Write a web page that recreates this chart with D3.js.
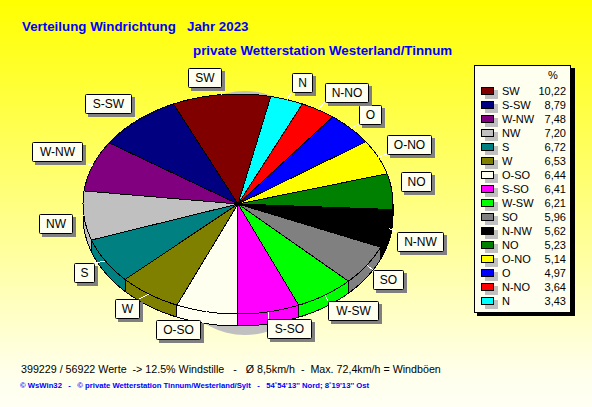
<!DOCTYPE html>
<html><head><meta charset="utf-8">
<script src="https://cdn.jsdelivr.net/npm/d3@7/dist/d3.min.js"></script>
<style>
html,body{margin:0;padding:0;background:#fff}
svg{display:block}
text{white-space:pre;font-family:"Liberation Sans",Arial,sans-serif}
</style></head><body>
<svg id="c" width="592" height="407"></svg>
<script>
const categories=["SW","S-SW","W-NW","NW","S","W","O-SO","S-SO","W-SW","SO","N-NW","NO","O-NO","O","N-NO","N"];
const percentValues=[10.22,8.79,7.48,7.20,6.72,6.53,6.44,6.41,6.21,5.96,5.62,5.23,5.14,4.97,3.64,3.43];
const percentLabels=["10,22","8,79","7,48","7,20","6,72","6,53","6,44","6,41","6,21","5,96","5,62","5,23","5,14","4,97","3,64","3,43"];
const sliceColors=["#800000","#000080","#800080","#C0C0C0","#008080","#808000","#FFFFF0","#FF00FF","#00FF00","#808080","#000000","#008000","#FFFF00","#0000FF","#FF0000","#00FFFF"];
const titleLine1="Verteilung Windrichtung   Jahr 2023";
const titleLine2="private Wetterstation Westerland/Tinnum";
const infoLine="399229 / 56922 Werte  -> 12.5% Windstille   -   Ø 8,5km/h  -  Max. 72,4km/h = Windböen";
const creditLine="© WsWin32   -   © private Wetterstation Tinnum/Westerland/Sylt   -   54˚54'13'' Nord; 8˚19'13'' Ost";
// callout box layout (left, top, width) by category
const calloutLayout={SW:[188,68,33],"S-SW":[85,94,46],"W-NW":[32,142,50],NW:[39,214,33],S:[74,263,20],W:[115,299,24],"O-SO":[156,320,44],"S-SO":[267,319,44],"W-SW":[328,301,50],SO:[373,270,30],"N-NW":[397,232,46],NO:[401,172,30],"O-NO":[387,135,44],O:[359,105,22],"N-NO":[325,83,43],N:[292,73,20]};

const svg=d3.select("#c");
const W=592,H=407;
const defs=svg.append("defs");
const g=defs.append("linearGradient").attr("id","bg").attr("gradientUnits","userSpaceOnUse")
 .attr("x1",0).attr("y1",0).attr("x2",0).attr("y2",H);
g.append("stop").attr("offset",0).attr("stop-color","#FFFF00");
g.append("stop").attr("offset",0.92).attr("stop-color","#FFFFEC");
g.append("stop").attr("offset",1).attr("stop-color","#FFFFF4");
svg.append("rect").attr("width",W).attr("height",H).attr("fill","url(#bg)");

const text=(x,y,s,size,o={})=>svg.append("text").attr("x",x).attr("y",y).text(s)
 .attr("font-size",size).attr("fill",o.fill||"#000").attr("font-weight",o.bold?"bold":"normal")
 .attr("text-anchor",o.anchor||"start");
text(22,31,titleLine1,13.33,{fill:"#0000FF",bold:true});
text(193,55,titleLine2,13.33,{fill:"#0000FF",bold:true});
text(21,373,infoLine,10.7);
text(20,388,creditLine,7.7,{fill:"#0000FF",bold:true});

// pie geometry: unit circle mapped to a flattened ellipse
const cx=238,cy=204,rx=155,ry=110,depth=12;
const sx=d3.scaleLinear().domain([-1,1]).range([cx-rx,cx+rx]);
const sy=d3.scaleLinear().domain([-1,1]).range([cy-ry,cy+ry]);
const rad=d=>d*Math.PI/180;
const start=rad(12.2);
const pie=d3.pie().sort(null).startAngle(start).endAngle(start-2*Math.PI);
const arcs=pie(percentValues);
const pt=(a,dy=0)=>[sx(Math.sin(a)),sy(-Math.cos(a))+dy];
const arcPts=(a0,a1,dy=0)=>{
  const n=Math.max(2,Math.ceil(Math.abs(a1-a0)/rad(1)));
  return d3.range(n+1).map(i=>pt(a0+(a1-a0)*i/n,dy));
};
const line=d3.line();
// cast shadow
svg.append("ellipse").attr("cx",245).attr("cy",213).attr("rx",95).attr("ry",122).attr("fill","#C0C0C0");
const pieG=svg.append("g").attr("shape-rendering","crispEdges");
// side walls of the lower half
arcs.forEach((d,i)=>{
  const hi=Math.min(d.startAngle,rad(-90)),lo=Math.max(d.endAngle,rad(-270));
  if(hi<=lo)return;
  const p=arcPts(hi,lo).concat(arcPts(lo,hi,depth));
  pieG.append("path").attr("d",line(p)+"Z").attr("fill",sliceColors[i]).attr("stroke","#000");
});
// top faces
arcs.forEach((d,i)=>{
  const p=[[cx,cy]].concat(arcPts(d.startAngle,d.endAngle));
  pieG.append("path").attr("d",line(p)+"Z").attr("fill",sliceColors[i]).attr("stroke","#000");
});
// callouts
const boxH=19;
categories.forEach((c,i)=>{
  const [bx,by,bw]=calloutLayout[c];
  const mid=(arcs[i].startAngle+arcs[i].endAngle)/2;
  const e=pt(mid);
  const nx=Math.max(bx,Math.min(bx+bw,e[0])),ny=Math.max(by,Math.min(by+boxH,e[1]));
  svg.append("line").attr("x1",e[0]).attr("y1",e[1]).attr("x2",nx).attr("y2",ny)
    .attr("stroke","#fff").attr("shape-rendering","crispEdges");
});
categories.forEach(c=>{
  const [bx,by,bw]=calloutLayout[c];
  svg.append("rect").attr("x",bx+3).attr("y",by+3).attr("width",bw+1).attr("height",boxH+1).attr("fill","#808080");
  svg.append("rect").attr("x",bx+.5).attr("y",by+.5).attr("width",bw).attr("height",boxH).attr("rx",1)
    .attr("fill","#FFFFF0").attr("stroke","#000");
  text(bx+bw/2+.5,by+14,c,12,{anchor:"middle"});
});
// legend
svg.append("rect").attr("x",477).attr("y",68).attr("width",98).attr("height",248).attr("fill","#000");
svg.append("rect").attr("x",474.5).attr("y",65.5).attr("width",96).attr("height",247).attr("fill","#FFFFF0").attr("stroke","#000");
text(553,79,"%",11,{anchor:"middle"});
const rowY=d3.scaleLinear().domain([0,1]).range([91,105]);
categories.forEach((c,i)=>{
  const y=rowY(i);
  svg.append("rect").attr("x",485).attr("y",y-1).attr("width",13).attr("height",9).attr("fill","#C0C0C0");
  svg.append("rect").attr("x",481.5).attr("y",y-3.5).attr("width",12).attr("height",7).attr("fill",sliceColors[i]).attr("stroke","#000");
  text(502,y+4,c,11);
  text(566,y+4,percentLabels[i],11,{anchor:"end"});
});
</script>
</body></html>
